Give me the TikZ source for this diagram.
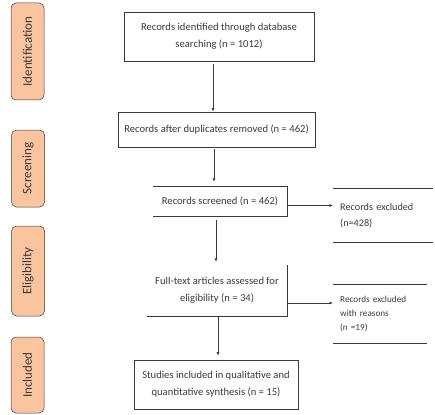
\documentclass[tikz,border=0pt]{standalone}
\usepackage{fontspec}
\setmainfont{Carlito}
\usetikzlibrary{arrows.meta}
\definecolor{phase}{HTML}{F9C49E}
\definecolor{ink}{HTML}{3A3A3A}

\begin{document}
\begin{tikzpicture}[x=1pt,y=-1pt,
  box/.style={align=center,inner sep=0pt,text=ink,font=\fontsize{10.6}{17}\selectfont},
  phasebox/.style={draw=ink,line width=0.5pt,fill=phase,rounded corners=5pt,rotate=90,
    minimum height=33pt,inner sep=0pt,text=ink,font=\fontsize{13}{14}\selectfont},
  excl/.style={align=left,inner sep=7pt,anchor=west,text=ink,font=\fontsize{10.2}{16}\selectfont},
  edge/.style={draw=ink,line width=0.7pt},
  arr/.style={-{Latex[length=3.5pt,width=3pt]},draw=ink,line width=0.7pt}]
  \useasboundingbox (0,0) rectangle (435,414);

  % phase labels on the left
  \node[phasebox,minimum width=97pt] (ident) at (27.5,51.5) {Identification};
  \node[phasebox,minimum width=77pt] (screen) at (28,168.5) {Screening};
  \node[phasebox,minimum width=90pt] (elig) at (28,271) {Eligibility};
  \node[phasebox,minimum width=76pt] (incl) at (27.5,375) {Included};

  % main column
  \node[box,draw=ink,line width=0.7pt,minimum width=190pt,minimum height=49pt] (found) at (219,36.5)
    {Records identified through database\\searching (n = 1012)};
  \node[box,draw=ink,line width=0.7pt,minimum width=197pt,minimum height=35pt] (dedup) at (216.5,129.5)
    {Records after duplicates removed (n = 462)};
  \node[box,minimum width=134pt,minimum height=29pt] (screened) at (220,201.5)
    {Records screened (n = 462)};
  \node[box,minimum width=140pt,minimum height=51pt] (fulltext) at (217,290.5)
    {Full-text articles assessed for\\eligibility (n = 34)};
  \node[box,draw=ink,line width=0.7pt,minimum width=164pt,minimum height=49pt] (studies) at (216,384.5)
    {Studies included in qualitative and\\quantitative synthesis (n = 15)};

  % open boxes: only some sides drawn
  \draw[edge] (screened.north west) -- (screened.north east) -- (screened.south east) -- (screened.south west);
  \draw[edge] (fulltext.north east) -- (fulltext.south east) -- (fulltext.south west);

  % exclusion notes, lines above and below
  \node[excl,text width=86pt,minimum height=53pt] (excl1) at (333,215.5)
    {Records excluded\\(n=428)};
  \node[excl,text width=80pt,minimum height=58pt,font=\fontsize{9.2}{14}\selectfont] (excl2) at (333,314)
    {Records excluded\\with reasons\\(n =19)};
  \draw[edge] (excl1.north west) -- (excl1.north east);
  \draw[edge] (excl1.south west) -- (excl1.south east);
  \draw[edge] (excl2.north west) -- (excl2.north east);
  \draw[edge] (excl2.south west) -- (excl2.south east);

  % arrows down the column
  \draw[arr] ([xshift=-6pt,yshift=-3pt]found.south) -- ([xshift=-6pt]found.south |- dedup.north);
  \draw[arr] ([xshift=-2.5pt,yshift=-2pt]dedup.south) -- ([xshift=-2.5pt,yshift=5pt]dedup.south |- screened.north);
  \draw[arr] ([xshift=-4pt,yshift=-4pt]screened.south) -- ([xshift=-4pt,yshift=3pt]screened.south |- fulltext.north);
  \draw[arr] ([xshift=1pt]fulltext.south) -- ([xshift=1pt,yshift=4pt]fulltext.south |- studies.north);

  % arrows to the right
  \draw[arr] ([yshift=-4pt]screened.east) -- ([yshift=-4pt]screened.east -| excl1.west);
  \draw[arr] ([yshift=-12.5pt]fulltext.east) -- ([yshift=-12.5pt]fulltext.east -| excl2.west);
\end{tikzpicture}
\end{document}
